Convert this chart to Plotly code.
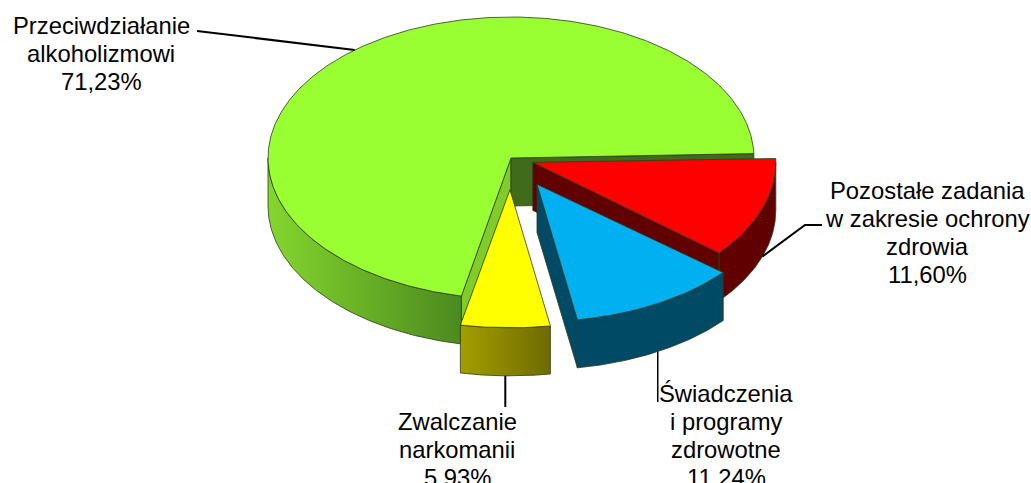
import numpy as np
import plotly.graph_objects as go

labels = ["Pozostałe zadania<br>w zakresie ochrony<br>zdrowia",
          "Świadczenia<br>i programy<br>zdrowotne",
          "Zwalczanie<br>narkomanii",
          "Przeciwdziałanie<br>alkoholizmowi"]
shares = [11.60, 11.24, 5.93, 71.23]
pull = [0.095, 0.215, 0.225, 0.0]
ry_scale = [1.0, 0.975, 0.98, 1.0]

top_colors = ["#FF0000", "#00B0F0", "#FFFF00", "#99FF33"]
side_colors = [["#600000", "#600000"], ["#004A66", "#004A66"],
               ["#A39E00", "#6E6B00"], ["#84D62E", "#4C8A1E"]]
wall_colors = [("#600000", "#600000"), ("#004A66", "#004A66"),
               ("#8F8B00", "#8F8B00"), ("#7FCC2A", "#3F6B1A")]
draw_order = [3, 0, 1, 2]
label_centers = [(927.5, 190), (726, 393), (457, 421), (101, 25)]
elbows = [(805, 225), None, None, (207, 32)]
leader_ends = [(822, 225), (None, 402), (None, 407), (197, 31)]
leader_widths = [2, 1.5, 2, 2]
leader_on_side = [True, True, True, False]

CX, CY, RX, RY, DEPTH = 511, 158, 243, 141, 48
START = -1.8
LINE_STEP = 28
EDGE = dict(color="#2F3A1A", width=0.8)

fig = go.Figure()


def poly(xs, ys, color=None, grad=None, line=EDGE):
    kw = dict(x=list(xs), y=list(ys), mode="lines", fill="toself", line=line,
              hoverinfo="skip", showlegend=False)
    if grad:
        kw["fillgradient"] = dict(type="horizontal",
                                  colorscale=[[0, grad[0]], [1, grad[1]]])
    else:
        kw["fillcolor"] = color
    fig.add_trace(go.Scatter(**kw))


def rim(cx, cy, ry, a0, a1, n=160):
    t = np.radians(np.linspace(a0, a1, n))
    return cx + RX * np.cos(t), cy + ry * np.sin(t)


# angles run clockwise from east on the elliptical top
spans = []
a = START
for s in shares:
    spans.append((a, a + s * 3.6))
    a += s * 3.6

for i in draw_order:
    a0, a1 = spans[i]
    mid = np.radians((a0 + a1) / 2)
    ry = RY * ry_scale[i]
    cx = CX + pull[i] * RX * np.cos(mid)
    cy = CY + pull[i] * RY * np.sin(mid)
    # cut faces that face the viewer
    faces = [(a0, wall_colors[i][0], np.cos(np.radians(a0)) < 0),
             (a1, wall_colors[i][1], np.cos(np.radians(a1)) > 0)]
    for ang, col, visible in faces:
        if visible:
            rx_, ry_ = rim(cx, cy, ry, ang, ang, 1)
            poly([cx, rx_[0], rx_[0], cx, cx],
                 [cy, ry_[0], ry_[0] + DEPTH, cy + DEPTH, cy], color=col)
    # visible part of the outer rim
    lo, hi = max(a0, 0), min(a1, 180)
    if hi > lo:
        sx, sy = rim(cx, cy, ry, lo, hi)
        poly(np.r_[sx, sx[::-1], sx[0]], np.r_[sy, sy[::-1] + DEPTH, sy[0]],
             grad=side_colors[i])
    # top
    tx, ty = rim(cx, cy, ry, a0, a1, 400)
    poly(np.r_[cx, tx, cx], np.r_[cy, ty, cy], color=top_colors[i])

    # leader line from the middle of the slice's rim to the label
    lx = cx + RX * np.cos(mid)
    ly = cy + ry * np.sin(mid) + (DEPTH if leader_on_side[i] else 0)
    xs, ys = [lx], [ly]
    if elbows[i]:
        xs.append(elbows[i][0]); ys.append(elbows[i][1])
    ex, ey = leader_ends[i]
    xs.append(lx if ex is None else ex); ys.append(ey)
    fig.add_trace(go.Scatter(x=xs, y=ys, mode="lines", hoverinfo="skip", showlegend=False,
                             line=dict(color="black", width=leader_widths[i])))

annotations = []
for lab, s, (x, y) in zip(labels, shares, label_centers):
    lines = lab.split("<br>") + [f"{s:.2f}%".replace(".", ",")]
    for k, t in enumerate(lines):
        annotations.append(dict(x=x, y=y + k * LINE_STEP, text=t, showarrow=False,
                                xanchor="center", yanchor="middle",
                                font=dict(family="Liberation Sans", size=23.8, color="black")))

fig.update_layout(width=1031, height=483, margin=dict(l=0, r=0, t=0, b=0),
                  paper_bgcolor="white", plot_bgcolor="white", showlegend=False,
                  annotations=annotations,
                  xaxis=dict(range=[0, 1031], visible=False, fixedrange=True),
                  yaxis=dict(range=[483, 0], visible=False, fixedrange=True))
fig.write_html("out.html", config={"displayModeBar": False},
               post_script="document.body.style.margin='0';document.documentElement.style.overflow='hidden';")
